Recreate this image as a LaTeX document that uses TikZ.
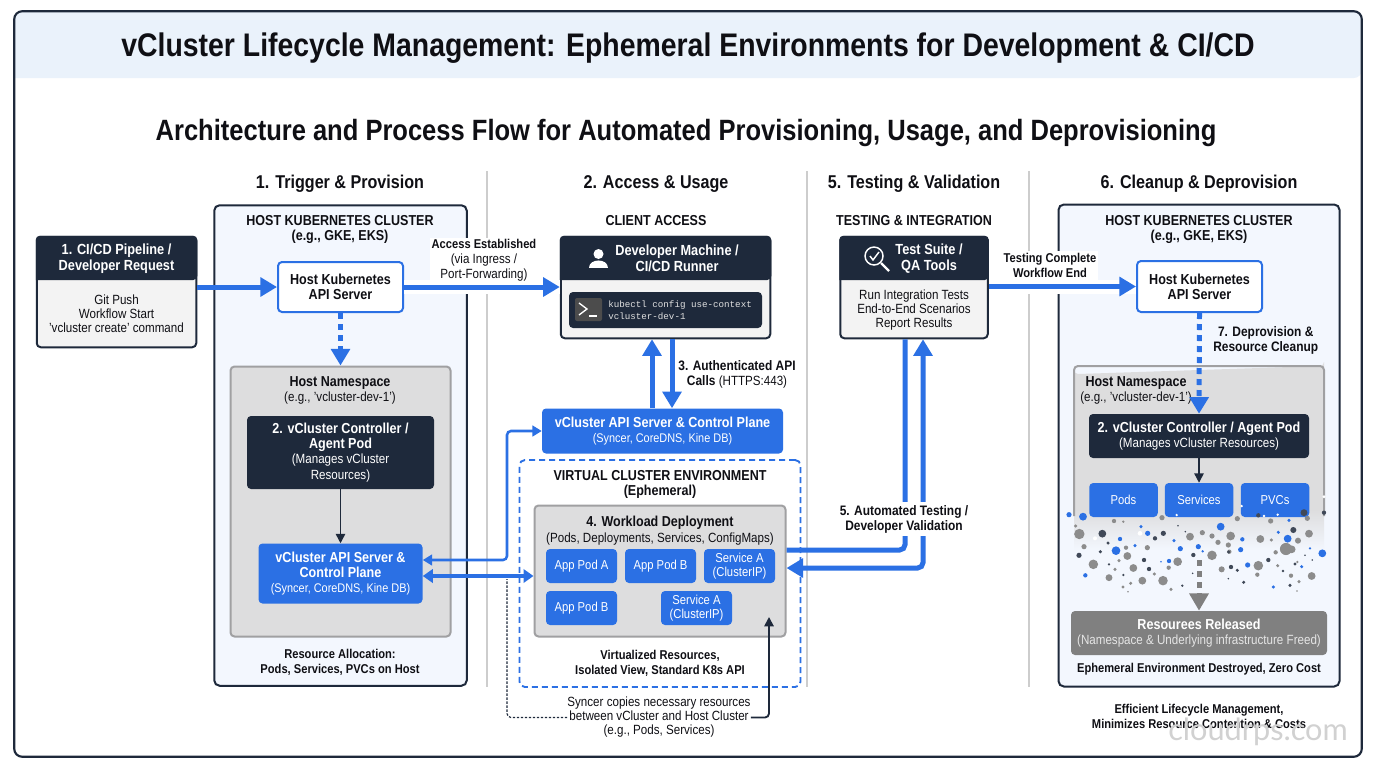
\documentclass[tikz,border=0pt]{standalone}
\usepackage{fontspec}
\usepackage{xcolor}
\usetikzlibrary{arrows.meta}
\setmainfont[FakeStretch=0.87]{Liberation Sans}
\setmonofont{Liberation Mono}
\newfontfamily\markfont{Lato}
\newcommand{\fpt}[2]{\fontsize{#1}{#2}\selectfont}
\newcommand{\plain}{\fpt{10}{10.5}\mdseries}
\newcommand{\plainsm}{\fpt{9.4}{10.5}\mdseries}
\tikzset{
	sized/.style 2 args={minimum width=#1*0.75pt,minimum height=#2*0.75pt,inner sep=0pt,align=center},
	boldtxt/.style={font=\fpt{9.6}{11.2}\bfseries,align=center,text=myink,inner sep=0pt,yshift=-1.2pt},
	captxt/.style={boldtxt,font=\fpt{10.8}{11.4}\bfseries},
	labeltxt/.style={boldtxt,font=\fpt{10.3}{11.2}\bfseries},
	plaintxt/.style={font=\plain,align=center,text=myink,inner sep=0pt},
	headtxt/.style={font=\fpt{13.9}{16}\bfseries,text=myink,inner sep=0pt,yshift=-1.5pt},
	hosthead/.style={text=white,font=\fpt{11}{11.9}\bfseries,align=center},
	hostpanel/.style={draw=mynavy,line width=1.5pt,rounded corners=4pt,fill=mypanel},
	nsbox/.style={draw=myedge,line width=1.5pt,rounded corners=3pt,fill=mygrey},
	headbox/.style={draw=mynavy,line width=1.5pt,rounded corners=3pt,fill=mybody},
	darkbox/.style={fill=mynavy,rounded corners=3pt,text=white,font=\fpt{10.85}{11.4}\bfseries},
	bluebox/.style={fill=myblue,rounded corners=3pt,text=white,font=\fpt{10.85}{11.4}\bfseries},
	apibox/.style={draw=myblue,line width=1.5pt,fill=white,rounded corners=3pt,text=myink,font=\fpt{10.85}{11.2}\bfseries},
	podbox/.style={fill=myblue,rounded corners=3pt,text=white,font=\fpt{9.7}{10.6}},
	flow/.style={draw=myblue,line width=3.75pt,-{Triangle[length=12.5pt,width=14pt]}},
	halo/.style={draw=white,line width=10.5pt},
	dotflow/.style={flow,dash pattern=on 4.5pt off 3.75pt},
	flowline/.style={draw=myblue,line width=3.75pt,rounded corners=4pt},
	thinflow/.style={draw=mynavy,line width=1.1pt,-{Triangle[length=7pt,width=7pt]}},
	sepline/.style={draw=mysep,line width=1.2pt},
}
\begin{document}
\begin{tikzpicture}[x=0.75pt,y=-0.75pt]
	% 配色
	\definecolor{mynavy}{RGB}{30,41,59}
	\definecolor{myink}{RGB}{15,15,20}
	\definecolor{myblue}{RGB}{43,112,228}
	\definecolor{mypanel}{RGB}{243,247,254}
	\definecolor{mygrey}{RGB}{221,221,222}
	\definecolor{myedge}{RGB}{160,160,162}
	\definecolor{mybody}{RGB}{243,243,243}
	\definecolor{mysep}{RGB}{205,205,205}
	\definecolor{myband}{RGB}{234,242,251}
	\definecolor{myfade}{RGB}{128,128,128}
	\useasboundingbox (0,0) rectangle (1376,768);
	\fill[white] (0,0) rectangle (1376,768);
	
	% 外框和标题
	\node[sized={1347}{745},fill=white,rounded corners=6pt] (frame) at (688,384) {};
	\fill[myband,rounded corners=6pt] (frame.west |- 0,78) -- (frame.north west) -- (frame.north east) -- (frame.east |- 0,78) [sharp corners] -- cycle;
	\draw[mynavy,line width=1.6pt,rounded corners=6pt] (frame.north west) rectangle (frame.south east);
	\node[font=\fpt{24.5}{28}\bfseries,text=myink,yshift=-2.2pt] (title) at (688,45) {vCluster Lifecycle Management: Ephemeral Environments for Development \& CI/CD};
	\node[font=\fpt{22}{26}\bfseries,text=myink,yshift=-2.2pt] (subtitle) at (686,130) {Architecture and Process Flow for Automated Provisioning, Usage, and Deprovisioning};
	
	% 四列标题和分隔线
	\node[headtxt] (headA) at (340,182) {1. Trigger \& Provision};
	\node[headtxt] (headB) at (656,182) {2. Access \& Usage};
	\node[headtxt] (headC) at (914,182) {5. Testing \& Validation};
	\node[headtxt] (headD) at (1199,182) {6. Cleanup \& Deprovision};
	\foreach \x in {487,807,1029}
	\draw[sepline] (\x,171) -- (\x,687);
	
	% 左侧集群
	\node[hostpanel,sized={252.5}{480.5}] (hostL) at (340.5,445.5) {};
	\node[captxt] (hostLtxt) at (340,228) {HOST KUBERNETES CLUSTER\\(e.g., GKE, EKS)};
	\node[nsbox,sized={220}{270}] (nsL) at (340.5,501.5) {};
	\node[captxt] (nsLtxt) at (340,389) {Host Namespace\\{\plain (e.g., 'vcluster-dev-1')}};
	\node[apibox,sized={125}{50}] (apiL) at (340.5,287) {Host Kubernetes\\API Server};
	\node[darkbox,sized={187}{73}] (ctrlL) at (340.5,452.5) {2. vCluster Controller /\\Agent Pod\\{\plain (Manages vCluster}\\{\plain Resources)}};
	\node[bluebox,sized={164}{60}] (vcapiL) at (340.5,573.5) {vCluster API Server \&\\Control Plane\\{\plainsm (Syncer, CoreDNS, Kine DB)}};
	\node[boldtxt] (allocL) at (340,661) {Resource Allocation:\\Pods, Services, PVCs on Host};
	
	% 请求框
	\node[headbox,sized={159.5}{110.5}] (cibox) at (116.5,292) {};
	
	% 开发机
	\node[headbox,sized={209.5}{101.5}] (devbox) at (665.5,287.5) {};
	
	% 测试框
	\node[headbox,sized={147.5}{101.5}] (testbox) at (914,287.5) {};
	
	% 深色表头
	\foreach \b in {cibox,devbox,testbox}
	\fill[mynavy,rounded corners=3pt] (\b.west |- 0,280) -- (\b.north west) -- (\b.north east) -- (\b.east |- 0,280) [sharp corners] -- cycle;
	
	\node[hosthead] (cihead) at (116.5,258.5) {1. CI/CD Pipeline /\\Developer Request};
	\node[plaintxt] (cibody) at (116.5,314) {Git Push\\Workflow Start\\'vcluster create' command};
	\node[captxt] (clienttxt) at (656,219) {CLIENT ACCESS};
	\node[hosthead] (devhead) at (677,258.5) {Developer Machine /\\CI/CD Runner};
	% 人像
	\fill[white] (598.5,254) circle (5);
	\fill[white] (589,268) .. controls (589,258) and (608,258) .. (608,268) -- cycle;
	% 终端
	\node[fill=mynavy,rounded corners=3pt,sized={193}{36}] (termbox) at (665.5,310) {};
	\fill[black!70,rounded corners=1.5pt] (575,298) rectangle (602,321);
	\draw[white,line width=1pt] (579,303) -- (587,309) -- (579,315);
	\draw[white,line width=1pt] (589,316) -- (597,316);
	\node[anchor=west,inner sep=0pt,text=black!12,font=\fpt{6.9}{8.6}\ttfamily,align=left] (termtxt) at (608,310) {kubectl config use-context\\vcluster-dev-1};
	
	\node[captxt] (testtxt) at (914,219) {TESTING \& INTEGRATION};
	\node[hosthead] (testhead) at (929,258.5) {Test Suite /\\QA Tools};
	\node[plaintxt] (testbody) at (914,310.5) {Run Integration Tests\\End-to-End Scenarios\\Report Results};
	% 放大镜
	\draw[white,line width=1.1pt] (874,256) circle (9);
	\draw[white,line width=1.6pt] (881,263) -- (889,271);
	\draw[white,line width=1.1pt] (870,256) -- (873,260) -- (879,252);
	
	% 中间虚拟集群
	\node[bluebox,sized={241}{45}] (vcapiT) at (662.5,431) {vCluster API Server \& Control Plane\\{\plainsm (Syncer, CoreDNS, Kine DB)}};
	\node[draw=myblue,line width=1.4pt,dash pattern=on 4.5pt off 3pt,rounded corners=4pt,sized={281}{227}] (virt) at (660,573.5) {};
	\node[captxt] (virttxt) at (660,482.5) {VIRTUAL CLUSTER ENVIRONMENT\\(Ephemeral)};
	\node[nsbox,sized={251}{131}] (work) at (660,571) {};
	\node[captxt] (worktxt) at (660,529) {4. Workload Deployment\\{\plain (Pods, Deployments, Services, ConfigMaps)}};
	\foreach \n/\x/\y/\t in {podA/581.5/566/App Pod A,podB/660.5/566/App Pod B,svcA/739.5/566/Service A\\(ClusterIP),podC/581.5/608/App Pod B,svcB/696.5/608/Service A\\(ClusterIP)}
	\node[podbox,sized={71}{34}] (\n) at (\x,\y) {\t};
	\node[boldtxt] (virtnote) at (660,661.5) {Virtualized Resources,\\Isolated View, Standard K8s API};
	\node[plaintxt] (synctxt) at (659,717.5) {Syncer copies necessary resources\\between vCluster and Host Cluster\\(e.g., Pods, Services)};
	
	% 右侧集群
	\node[hostpanel,sized={281}{482}] (hostR) at (1199,445.5) {};
	\node[captxt] (hostRtxt) at (1199,228) {HOST KUBERNETES CLUSTER\\(e.g., GKE, EKS)};
	% 命名空间下部渐隐
	\fill[mygrey] (1074,510) -- (1074,370) arc (180:90:4) -- (1320,366) arc (90:0:4) -- (1324,510) -- cycle;
	\shade[top color=mygrey,bottom color=mypanel] (1074,510) rectangle (1324,550);
	\draw[myedge,line width=1.5pt,rounded corners=3pt] (1074,516) -- (1074,366) -- (1324,366) -- (1324,516);
	\node[captxt] (nsRtxt) at (1136,389) {Host Namespace\\{\plain (e.g., 'vcluster-dev-1')}};
	\node[apibox,sized={125}{51}] (apiR) at (1199.5,286.5) {Host Kubernetes\\API Server};
	\node[darkbox,sized={220}{44}] (ctrlR) at (1199,436) {2. vCluster Controller / Agent Pod\\{\plain (Manages vCluster Resources)}};
	\foreach \n/\x/\t in {pods/1123.5/Pods,svcs/1199/Services,pvcs/1275/PVCs}
	\node[podbox,sized={68.5}{34}] (\n) at (\x,500) {\t};
	\node[labeltxt,anchor=west] (cleantxt) at (1213,339) {7. Deprovision \&\\Resource Cleanup};
	
	% 散开的资源点
	\begin{scope}[shift={(1040,480)},scale=0.3333]
		\foreach \x/\y/\r in {87/104/6,129/110/9,303/140/4,323/160/6,240/177/5,228/212/10,285/197/4,402/182/4,421/206/6,475/200/6,488/214/3,542/140/9,607/178/5,602/209/6,715/157/4,743/176/9,747/121/4,810/205/3,847/220/9,785/260/4,623/255/6,387/243/5,363/245/2,136/286/5,700/321/4}
		\fill[myblue] (\x,\y) circle ({\r*1.3});
		
		\foreach \x/\y/\r in {118/162/12,107/138/4,222/123/5,250/125/3,366/113/6,132/200/6,258/203/5,262/228/9,322/203/6,160/253/11,237/242/4,280/264/9,225/268/4,207/293/8,307/302/9,369/302/11,386/263/5,413/245/10,343/282/4,272/310/4,249/321/4,393/328/4,450/170/9,487/158/6,516/168/6,572/168/10,534/187/6,565/195/6,516/226/11,568/215/5,545/268/7,655/257/11,652/284/5,661/177/9,694/180/4,707/217/5,738/207/14,755/208/9,774/182/7,807/161/9,802/115/6,592/116/6,692/123/6,772/246/3,753/287/5,777/305/4,815/288/9,771/333/2,264/335/2,713/257/4}
		\fill[black!45] (\x,\y) circle ({\r*1.3});
		
		\foreach \x/\y/\r in {187/161/9,345/175/5,370/160/6,204/189/4,181/215/4,117/226/6,312/240/5,207/253/3,250/285/3,327/267/5,427/317/3,458/280/2,460/225/5,436/155/2,414/137/2,573/261/5,592/271/4,566/216/4,565/296/2,611/307/4,685/240/5,729/273/3,765/252/4,795/226/2,817/240/2,760/150/7,792/98/8,852/98/5,750/316/4,655/106/5}
		\fill[mynavy!85] (\x,\y) circle ({\r*1.3});
		
		\foreach \x/\y/\r in {410/105/4,605/78/4,713/104/4,165/175/6,300/160/7,852/50/5,672/108/4}
		\fill[white] (\x,\y) circle (\r);
	\end{scope}
	
	\node[fill=myfade,rounded corners=3pt,sized={256}{44},text=white,font=\fpt{10.85}{11.4}\bfseries] (freed) at (1199,633) {Resourees Released\\{\plain\color{white!90!black} (Namespace \& Underlying infrastructure Freed)}};
	\node[boldtxt] (zerotxt) at (1199,667.5) {Ephemeral Environment Destroyed, Zero Cost};
	\node[boldtxt] (effic) at (1199,714.5) {Efficient Lifecycle Management,\\Minimizes Resource Contention \& Costs};
	
	% 连线
	\coordinate (upX) at (652,373);
	\coordinate (downX) at (672,373);
	\coordinate (testL) at (905,440);
	\coordinate (testR) at (923,440);
	\coordinate (syncA) at (507,560);
	\coordinate (syncB) at (507,579);
	\coordinate (syncC) at (769,617);
	\coordinate (fadeTop) at (1199,560);
	
	\draw[halo] (apiL.east) -- (devbox.west |- apiL.east);
	\draw[halo] (testbox.east |- apiR.west) -- (apiR.west);
	\draw[flow] (cibox.east |- apiL.west) -- (apiL.west);
	\draw[flow] (apiL.east) -- (devbox.west |- apiL.east);
	\draw[flow] (testbox.east |- apiR.west) -- (apiR.west);
	\draw[dotflow] (apiL.south) -- (nsL.north);
	\draw[dotflow] (apiR.south) -- (ctrlR.north);
	\draw[thinflow] (ctrlL.south) -- (vcapiL.north);
	\draw[thinflow] (ctrlR.south) -- (svcs.north);
	\draw[flow] (vcapiT.north -| upX) -- (devbox.south -| upX);
	\draw[flow] (devbox.south -| downX) -- (vcapiT.north -| downX);
	
	% 测试线
	\draw[flowline] (testbox.south -| testL) -- (905,550) -- (work.east |- 0,550);
	\draw[flow,{Triangle[length=12.5pt,width=14pt]}-{Triangle[length=12.5pt,width=14pt]},rounded corners=4pt] (testbox.south -| testR) -- (923,568) -- (work.east |- 0,568);
	
	% 同步线
	\draw[draw=myblue,line width=1.9pt,rounded corners=3pt,{Triangle[length=7pt,width=8pt]}-{Triangle[length=7pt,width=8pt]}] (vcapiL.east |- syncA) -- (syncA) |- (vcapiT.west);
	\draw[draw=myblue,line width=3pt,{Triangle[length=7.5pt,width=10pt]}-{Triangle[length=7.5pt,width=10pt]}] (vcapiL.east |- 0,576) -- (work.west |- 0,576);
	\draw[mynavy,line width=0.9pt,dash pattern=on 1.8pt off 1.2pt,rounded corners=3pt] (synctxt.west) -| (syncB);
	\draw[mynavy,line width=1.4pt,rounded corners=3pt,-{Triangle[length=7pt,width=7pt]}] (synctxt.east) -| (syncC);
	
	% 渐隐箭头
	\draw[dotflow,draw=myfade,-{Triangle[length=13pt,width=14pt,fill=myfade]}] (fadeTop) -- (freed.north);
	
	% 连线标签
	\node[boldtxt,fill=white,inner sep=1.5pt] (accesstxt) at (484,259) {Access Established\\{\plain (via Ingress /}\\{\plain Port-Forwarding)}};
	\node[boldtxt,fill=white,inner sep=1.5pt] (donetxt) at (1050,264) {Testing Complete\\Workflow End};
	\node[labeltxt] (authtxt) at (737,372.5) {3. Authenticated API\\Calls {\plain (HTTPS:443)}};
	\node[labeltxt,fill=white,inner sep=2.5pt] (autotxt) at (904,517.5) {5. Automated Testing /\\Developer Validation};
	
	% 水印
	\node[font=\fpt{23}{26}\markfont,text=black!18] (mark) at (1258,732) {cloudrps.com};
\end{tikzpicture}
\end{document}
